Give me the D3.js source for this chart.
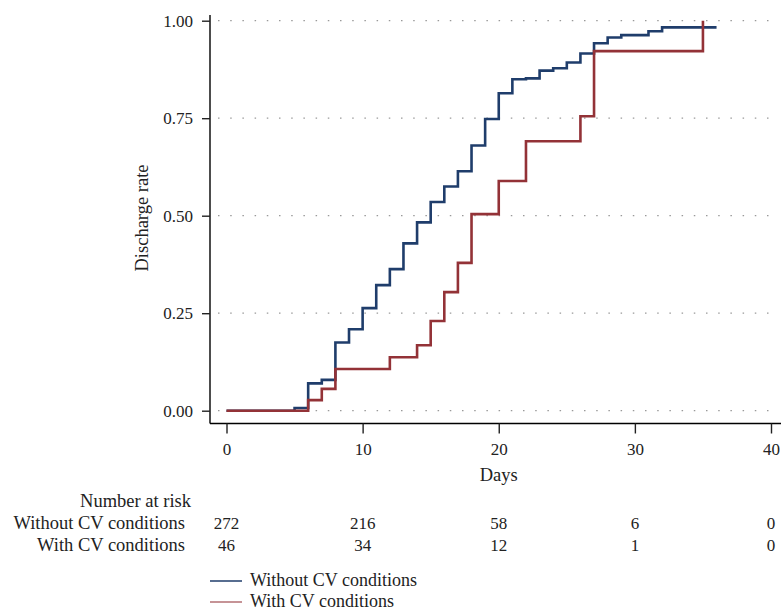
<!DOCTYPE html>
<html>
<head>
<meta charset="utf-8">
<script src="https://cdn.jsdelivr.net/npm/d3@7"></script>
<style>
  body { margin: 0; background: #fff; }
  svg { display: block; font-family: "Liberation Serif", "DejaVu Serif", serif; }
</style>
</head>
<body>
<svg id="chart" width="781" height="613"></svg>
<script>
// step times (days) and cumulative discharge rate after each step
const withoutDays  = [0, 5, 6, 7, 8, 9, 10, 11, 12, 13, 14, 15, 16, 17, 18, 19, 20, 21, 22, 23, 24, 25, 26, 27, 28, 29, 31, 32, 36];
const withoutRates = [0, 0.007, 0.070, 0.079, 0.175, 0.209, 0.263, 0.322, 0.363, 0.429, 0.483, 0.535, 0.575, 0.614, 0.680, 0.748, 0.814, 0.850, 0.852, 0.872, 0.878, 0.893, 0.916, 0.942, 0.957, 0.963, 0.973, 0.983, 0.983];

const withDays  = [0, 6, 7, 8, 12, 14, 15, 16, 17, 18, 20, 22, 26, 27, 35];
const withRates = [0, 0.027, 0.056, 0.107, 0.137, 0.168, 0.230, 0.304, 0.379, 0.504, 0.589, 0.691, 0.755, 0.922, 1.0];

const xTicks = [0, 10, 20, 30, 40];
const yTicks = [0, 0.25, 0.5, 0.75, 1];
const riskWithout = [272, 216, 58, 6, 0];
const riskWith = [46, 34, 12, 1, 0];
const groupNames = ["Without CV conditions", "With CV conditions"];
const groupColors = ["#1f3d6b", "#933237"];

const svg = d3.select("#chart");

const x = d3.scaleLinear().domain([0, 40]).range([226.5, 771]);
const y = d3.scaleLinear().domain([0, 1]).range([410.7, 20.7]);

// gridlines
svg.append("g")
    .selectAll("line")
    .data(yTicks)
    .enter()
    .append("line")
    .attr("x1", 218)
    .attr("x2", 775)
    .attr("y1", d => y(d))
    .attr("y2", d => y(d))
    .attr("stroke", "#999")
    .attr("stroke-width", 1.2)
    .attr("stroke-dasharray", "1.5,10.7");

// Y axis
const yAxis = svg.append("g")
    .attr("transform", "translate(210,0)")
    .call(d3.axisLeft(y).tickValues(yTicks).tickFormat(d3.format(".2f")).tickSize(8).tickPadding(9));
yAxis.select(".domain").attr("d", "M0,15V423.5").attr("stroke-width", 1.4);

// X axis
const xAxis = svg.append("g")
    .attr("transform", "translate(0,423.5)")
    .call(d3.axisBottom(x).tickValues(xTicks).tickSize(10).tickPadding(9));
xAxis.select(".domain").attr("d", "M210,0H781").attr("stroke-width", 1.4);

svg.selectAll(".tick line").attr("stroke", "#222").attr("stroke-width", 1.4);
svg.selectAll(".tick text")
    .attr("fill", "#222")
    .style("font-size", "17px")
    .style("font-family", "'Liberation Serif', serif");

// axis titles
svg.append("text")
    .attr("transform", "translate(148,218) rotate(-90)")
    .attr("text-anchor", "middle")
    .style("font-size", "18.5px")
    .attr("fill", "#222")
    .text("Discharge rate");

svg.append("text")
    .attr("x", x(20))
    .attr("y", 481)
    .attr("text-anchor", "middle")
    .style("font-size", "18.5px")
    .attr("fill", "#222")
    .text("Days");

// step curves
const line = d3.line()
    .x(d => x(d[0]))
    .y(d => y(d[1]))
    .curve(d3.curveStepAfter);

const series = [
    d3.zip(withoutDays, withoutRates),
    d3.zip(withDays, withRates)
];

svg.append("g")
    .selectAll("path")
    .data(series)
    .enter()
    .append("path")
    .attr("d", line)
    .attr("fill", "none")
    .attr("stroke", (d, i) => groupColors[i])
    .attr("stroke-width", 2.6);

// number at risk table
svg.append("text")
    .attr("x", 191)
    .attr("y", 507)
    .attr("text-anchor", "end")
    .style("font-size", "18.5px")
    .attr("fill", "#222")
    .text("Number at risk");

[riskWithout, riskWith].forEach((row, i) => {
    const ry = 529 + i * 22;
    svg.append("text")
        .attr("x", 185)
        .attr("y", ry)
        .attr("text-anchor", "end")
        .style("font-size", "18.5px")
        .attr("fill", "#222")
        .text(groupNames[i]);
    svg.append("g")
        .selectAll("text")
        .data(row)
        .enter()
        .append("text")
        .attr("x", (d, j) => x(xTicks[j]))
        .attr("y", ry)
        .attr("text-anchor", "middle")
        .style("font-size", "17px")
        .attr("fill", "#222")
        .text(d => d);
});

// legend
const legend = svg.append("g")
    .selectAll("g")
    .data(groupNames)
    .enter()
    .append("g")
    .attr("transform", (d, i) => `translate(210,${581 + i * 21})`);

legend.append("line")
    .attr("x1", 0)
    .attr("x2", 32)
    .attr("stroke", (d, i) => groupColors[i])
    .attr("stroke-opacity", (d, i) => i === 0 ? 1 : 0.7)
    .attr("stroke-width", 1.5);

legend.append("text")
    .attr("x", 40)
    .attr("y", 5)
    .style("font-size", "18px")
    .attr("fill", "#222")
    .text(d => d);
</script>
</body>
</html>
